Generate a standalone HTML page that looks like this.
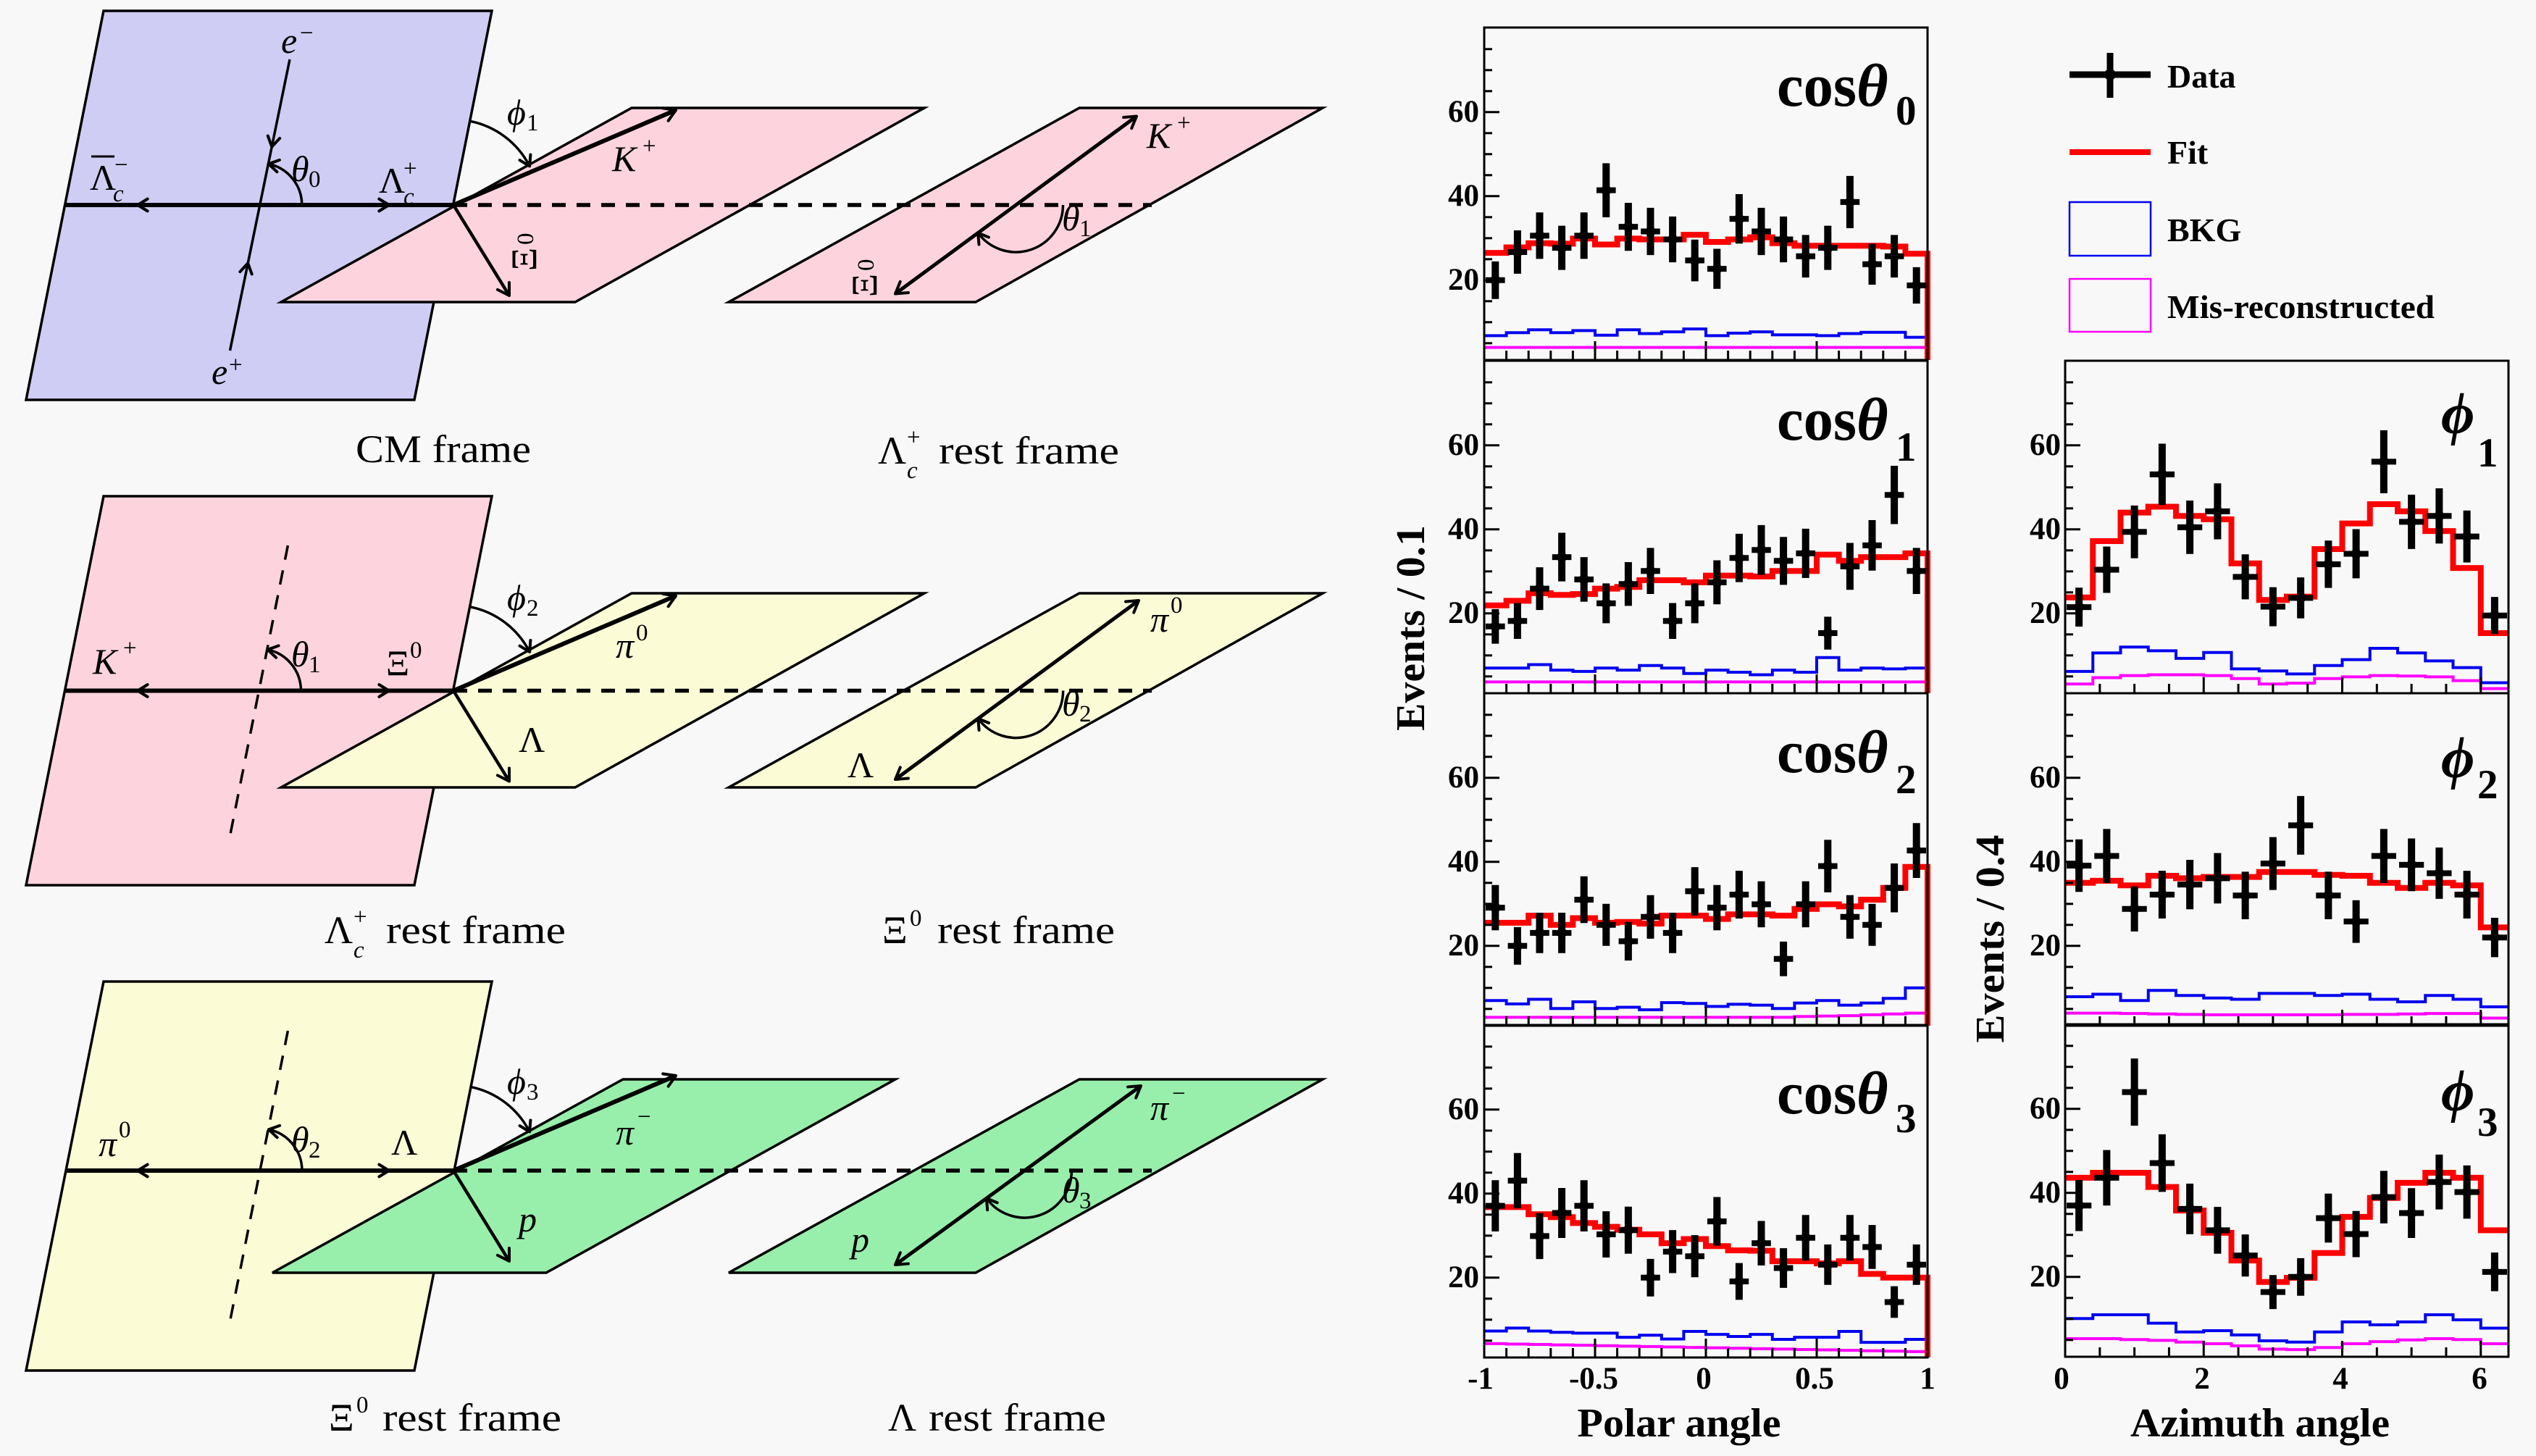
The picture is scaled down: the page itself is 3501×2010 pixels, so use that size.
<!DOCTYPE html>
<html><head><meta charset="utf-8">
<style>
html,body{margin:0;padding:0;background:#f8f8f8;}
svg{display:block;}
text{font-family:"Liberation Serif","DejaVu Serif",serif;fill:#000;}
.bd{font-weight:bold;}
.it{font-style:italic;}
.m{font-size:50px;}
.s{font-size:33px;}
.cap{font-size:54px;}
.tk{font-size:43px;font-weight:bold;}
.lg{font-size:46px;font-weight:bold;}
</style></head><body>
<svg id="s" xmlns="http://www.w3.org/2000/svg" width="3501" height="2010" viewBox="0 0 3501 2010">
<rect width="3501" height="2010" fill="#f8f8f8"/>
<g id="diag"></g>
<g id="plots"></g>

<!-- Row 1 labels -->
<text class="m it" x="388" y="73">e</text><text class="s" x="414" y="56">−</text>
<text class="m it" x="292" y="530">e</text><text class="s" x="316" y="514">+</text>
<text class="m" x="124" y="262">Λ</text><line x1="126" y1="216" x2="158" y2="216" stroke="#000" stroke-width="3"/><text class="s it" x="156" y="278">c</text><text class="s" x="158" y="238">−</text>
<text class="m" x="523" y="266">Λ</text><text class="s" x="557" y="243">+</text><text class="s it" x="557" y="282">c</text>
<text class="m it" x="402" y="250">θ</text><text class="s" x="426" y="258">0</text>
<text class="m it" x="700" y="172">ϕ</text><text class="s" x="727" y="180">1</text>
<text class="m it" x="845" y="236">K</text><text class="s" x="887" y="212">+</text>
<g transform="translate(740,374) rotate(-90)"><text class="m" x="0" y="0">Ξ</text><text class="s" x="36" y="-4">0</text></g>
<g transform="translate(1210,410) rotate(-90)"><text class="m" x="0" y="0">Ξ</text><text class="s" x="36" y="-4">0</text></g>
<text class="m it" x="1583" y="204">K</text><text class="s" x="1625" y="180">+</text>
<text class="m it" x="1466" y="318">θ</text><text class="s" x="1490" y="326">1</text>
<text class="cap" x="491" y="638" textLength="242" lengthAdjust="spacingAndGlyphs">CM frame</text>
<text class="cap" x="1212" y="640">Λ</text><text class="s it" x="1252" y="660">c</text><text class="s" x="1252" y="614">+</text>
<text class="cap" x="1296" y="640" textLength="249" lengthAdjust="spacingAndGlyphs">rest frame</text>

<!-- Row 2 labels -->
<text class="m it" x="128" y="930">K</text><text class="s" x="170" y="905">+</text>
<text class="m it" x="402" y="920">θ</text><text class="s" x="426" y="928">1</text>
<text class="m" x="533" y="932">Ξ</text><text class="s" x="566" y="908">0</text>
<text class="m it" x="700" y="842">ϕ</text><text class="s" x="727" y="850">2</text>
<text class="m it" x="850" y="908">π</text><text class="s" x="878" y="884">0</text>
<text class="m" x="716" y="1038">Λ</text>
<text class="m it" x="1588" y="872">π</text><text class="s" x="1616" y="846">0</text>
<text class="m" x="1170" y="1073">Λ</text>
<text class="m it" x="1466" y="988">θ</text><text class="s" x="1490" y="996">2</text>
<text class="cap" x="448" y="1302">Λ</text><text class="s it" x="488" y="1322">c</text><text class="s" x="488" y="1276">+</text>
<text class="cap" x="533" y="1302" textLength="248" lengthAdjust="spacingAndGlyphs">rest frame</text>
<text class="cap" x="1218" y="1302">Ξ</text><text class="s" x="1256" y="1278">0</text>
<text class="cap" x="1294" y="1302" textLength="245" lengthAdjust="spacingAndGlyphs">rest frame</text>

<!-- Row 3 labels -->
<text class="m it" x="136" y="1596">π</text><text class="s" x="164" y="1570">0</text>
<text class="m it" x="402" y="1590">θ</text><text class="s" x="426" y="1598">2</text>
<text class="m" x="540" y="1594">Λ</text>
<text class="m it" x="700" y="1510">ϕ</text><text class="s" x="727" y="1518">3</text>
<text class="m it" x="850" y="1580">π</text><text class="s" x="880" y="1552">−</text>
<text class="m it" x="716" y="1700">p</text>
<text class="m it" x="1588" y="1546">π</text><text class="s" x="1618" y="1520">−</text>
<text class="m it" x="1175" y="1728">p</text>
<text class="m it" x="1466" y="1660">θ</text><text class="s" x="1490" y="1668">3</text>
<text class="cap" x="454" y="1975">Ξ</text><text class="s" x="492" y="1950">0</text>
<text class="cap" x="528" y="1975" textLength="247" lengthAdjust="spacingAndGlyphs">rest frame</text>
<text class="cap" x="1226" y="1975">Λ</text>
<text class="cap" x="1282" y="1975" textLength="245" lengthAdjust="spacingAndGlyphs">rest frame</text>

<!-- Legend -->
<line x1="2857" y1="103" x2="2969" y2="103" stroke="#000" stroke-width="9"/>
<line x1="2913" y1="73" x2="2913" y2="135" stroke="#000" stroke-width="9"/>
<circle cx="2913" cy="103" r="8" fill="#000"/>
<line x1="2857" y1="210" x2="2969" y2="210" stroke="#f00" stroke-width="8"/>
<rect x="2857" y="279" width="112" height="74" fill="none" stroke="#0000f0" stroke-width="2.5"/>
<rect x="2857" y="385" width="112" height="73" fill="none" stroke="#ff00ff" stroke-width="2.5"/>
<text class="lg" x="2992" y="121">Data</text>
<text class="lg" x="2992" y="226">Fit</text>
<text class="lg" x="2992" y="333">BKG</text>
<text class="lg" x="2992" y="439" textLength="369" lengthAdjust="spacingAndGlyphs">Mis-reconstructed</text>

<!-- Panel labels left -->
<text class="bd" font-size="84" x="2453" y="146" textLength="110" lengthAdjust="spacingAndGlyphs">cos</text><text class="bd it" font-size="84" x="2563" y="146">θ</text><text class="bd" font-size="57" x="2617" y="172">0</text>
<text class="bd" font-size="84" x="2453" y="607" textLength="110" lengthAdjust="spacingAndGlyphs">cos</text><text class="bd it" font-size="84" x="2563" y="607">θ</text><text class="bd" font-size="57" x="2617" y="636">1</text>
<text class="bd" font-size="84" x="2453" y="1066" textLength="110" lengthAdjust="spacingAndGlyphs">cos</text><text class="bd it" font-size="84" x="2563" y="1066">θ</text><text class="bd" font-size="57" x="2617" y="1095">2</text>
<text class="bd" font-size="84" x="2453" y="1537" textLength="110" lengthAdjust="spacingAndGlyphs">cos</text><text class="bd it" font-size="84" x="2563" y="1537">θ</text><text class="bd" font-size="57" x="2617" y="1563">3</text>
<!-- Panel labels right -->
<text class="bd it" font-size="80" x="3370" y="598">ϕ</text><text class="bd" font-size="57" x="3420" y="644">1</text>
<text class="bd it" font-size="80" x="3370" y="1073">ϕ</text><text class="bd" font-size="57" x="3420" y="1102">2</text>
<text class="bd it" font-size="80" x="3370" y="1533">ϕ</text><text class="bd" font-size="57" x="3420" y="1568">3</text>

<!-- Y tick labels -->
<g text-anchor="end">
<text class="tk" x="2042" y="400">20</text><text class="tk" x="2042" y="284">40</text><text class="tk" x="2042" y="168">60</text>
<text class="tk" x="2042" y="860">20</text><text class="tk" x="2042" y="744">40</text><text class="tk" x="2042" y="628">60</text>
<text class="tk" x="2042" y="1319">20</text><text class="tk" x="2042" y="1203">40</text><text class="tk" x="2042" y="1087">60</text>
<text class="tk" x="2042" y="1777">20</text><text class="tk" x="2042" y="1661">40</text><text class="tk" x="2042" y="1545">60</text>
<text class="tk" x="2845" y="860">20</text><text class="tk" x="2845" y="744">40</text><text class="tk" x="2845" y="628">60</text>
<text class="tk" x="2845" y="1319">20</text><text class="tk" x="2845" y="1203">40</text><text class="tk" x="2845" y="1087">60</text>
<text class="tk" x="2845" y="1776">20</text><text class="tk" x="2845" y="1660">40</text><text class="tk" x="2845" y="1544">60</text>
</g>
<!-- X tick labels -->
<g text-anchor="middle">
<text class="tk" x="2044" y="1917">-1</text><text class="tk" x="2200" y="1917">-0.5</text><text class="tk" x="2352" y="1917">0</text><text class="tk" x="2505" y="1917">0.5</text><text class="tk" x="2661" y="1917">1</text>
<text class="tk" x="2846" y="1917">0</text><text class="tk" x="3040" y="1917">2</text><text class="tk" x="3231" y="1917">4</text><text class="tk" x="3423" y="1917">6</text>
<text class="bd" font-size="56" x="2318" y="1983" textLength="281" lengthAdjust="spacingAndGlyphs">Polar angle</text>
<text class="bd" font-size="56" x="3120" y="1983" textLength="358" lengthAdjust="spacingAndGlyphs">Azimuth angle</text>
<text class="bd" font-size="56" transform="translate(1966,867) rotate(-90)" x="0" y="0" textLength="284" lengthAdjust="spacingAndGlyphs">Events / 0.1</text>
<text class="bd" font-size="56" transform="translate(2766,1296) rotate(-90)" x="0" y="0" textLength="287" lengthAdjust="spacingAndGlyphs">Events / 0.4</text>
</g>
</svg>
<script>
const NS="http://www.w3.org/2000/svg";
function el(p,t,a){const e=document.createElementNS(NS,t);for(const k in a)e.setAttribute(k,a[k]);p.appendChild(e);return e;}
const D=document.getElementById('diag'),P=document.getElementById('plots');
const R=Math.PI/180;
function poly(pts,fill){el(D,'polygon',{points:pts.map(p=>p.join(',')).join(' '),fill:fill,stroke:'#000','stroke-width':3.5});}
function ln(x1,y1,x2,y2,w,dash){const a={x1:x1,y1:y1,x2:x2,y2:y2,stroke:'#000','stroke-width':w};if(dash)a['stroke-dasharray']=dash;el(D,'line',a);}
function head(x,y,ang,s){s=s||18;const a1=ang+Math.PI-0.55,a2=ang+Math.PI+0.55;
 el(D,'polyline',{points:(x+s*Math.cos(a1))+','+(y+s*Math.sin(a1))+' '+x+','+y+' '+(x+s*Math.cos(a2))+','+(y+s*Math.sin(a2)),fill:'none',stroke:'#000','stroke-width':4,'stroke-linecap':'round','stroke-linejoin':'round'});}
function arrow(x1,y1,x2,y2,w,both){ln(x1,y1,x2,y2,w);const a=Math.atan2(y2-y1,x2-x1);head(x2,y2,a);if(both)head(x1,y1,a+Math.PI);}
function arc(cx,cy,r,a0,a1,w){const p0=[cx+r*Math.cos(a0*R),cy+r*Math.sin(a0*R)],p1=[cx+r*Math.cos(a1*R),cy+r*Math.sin(a1*R)];
 const sw=a1>a0?1:0,lg=Math.abs(a1-a0)>180?1:0;
 el(D,'path',{d:'M'+p0[0]+','+p0[1]+' A'+r+','+r+' 0 '+lg+' '+sw+' '+p1[0]+','+p1[1],fill:'none',stroke:'#000','stroke-width':w||3.5});
 const t=a1*R;head(p1[0],p1[1],sw?t+Math.PI/2:t-Math.PI/2,16);}
function row(o){
 const dy=o.dy,ly=o.ly;
 poly([[143,15+dy],[679,15+dy],[572,552+dy],[36,552+dy]],o.big);
 poly(o.A,o.small);poly(o.B,o.small);
 ln(91,ly,626,ly,6);head(190,ly,Math.PI,16);head(537,ly,0,16);
 ln(626,ly,1590,ly,5.5,'19 15');
 const v=o.v;
 if(o.e){ln(v[0],v[1],v[2],v[3],3.5);const a=Math.atan2(v[3]-v[1],v[2]-v[0]);
  head(v[0]+(v[2]-v[0])*0.3,v[1]+(v[3]-v[1])*0.3,a,16);head(v[0]+(v[2]-v[0])*0.7,v[1]+(v[3]-v[1])*0.7,a+Math.PI,16);}
 else ln(v[0],v[1],v[2],v[3],3.5,'20 15');
 const tt=(ly-v[1])/(v[3]-v[1]);const vx=v[0]+(v[2]-v[0])*tt;
 arc(vx,ly,58,0,-78,3.5);
 arc(626,ly,118,-79,-27,3.5);
 arrow(626,ly,933,ly-131,6);
 arrow(626,ly,703,ly+125,4.5);
 const b=o.bl;arrow(b[0],b[1],b[2],b[3],5,true);
 const t2=(ly-b[1])/(b[3]-b[1]);const bx=b[0]+(b[2]-b[0])*t2;
 const ang=Math.atan2(b[1]-ly,b[0]-bx)/R;
 arc(bx,ly,65,0,ang,3.5);
}
const BLUE='#d0cdf4',PINK='#fdd4de',YEL='#fbfbd6',GRN='#98efab';
row({dy:0,ly:283,big:BLUE,small:PINK,A:[[872,149],[1276,149],[794,417],[388,417]],B:[[1490,149],[1826,149],[1347,417],[1006,417]],v:[400,82,317.5,484],e:true,bl:[1236,405.5,1569,160.5]});
row({dy:670,ly:953.5,big:PINK,small:YEL,A:[[872,819],[1276,819],[794,1087],[388,1087]],B:[[1490,819],[1826,819],[1347,1087],[1006,1087]],v:[397.4,753,317.5,1154],e:false,bl:[1236,1076,1572,829]});
row({dy:1340,ly:1616,big:YEL,small:GRN,A:[[860,1490],[1236,1490],[754,1757],[376,1757]],B:[[1490,1490],[1826,1490],[1347,1757],[1006,1757]],v:[397.4,1423,317.5,1824],e:false,bl:[1236,1746,1575,1499]});

function panel(x0,x1,B,nb,d,f,bk,mi,left){
 const W=x1-x0,bw=W/nb,top=B-459,Y=v=>B-(v-1)*5.8;
 function hist(vals,c,w,drop){let s='M'+x0+','+Y(vals[0]);for(let i=0;i<nb;i++){s+=' L'+(x0+i*bw)+','+Y(vals[i])+' L'+(x0+(i+1)*bw)+','+Y(vals[i]);}if(drop)s+=' L'+x1+','+B;el(P,'path',{d:s,fill:'none',stroke:c,'stroke-width':w});}
 hist(mi,'#ff00ff',4);hist(bk,'#0000f0',4);hist(f,'#ff0000',8,left);
 for(let i=0;i<nb;i++){const v=d[i],cx=x0+(i+0.5)*bw,cy=Y(v),e=Math.sqrt(v);
  el(P,'line',{x1:cx,y1:Y(v+e),x2:cx,y2:Y(v-e),stroke:'#000','stroke-width':10});
  el(P,'line',{x1:x0+i*bw+2,y1:cy,x2:x0+(i+1)*bw-2,y2:cy,stroke:'#000','stroke-width':8});
  el(P,'circle',{cx:cx,cy:cy,r:7,fill:'#000'});}
 el(P,'rect',{x:x0,y:top,width:W,height:459,fill:'none',stroke:'#000','stroke-width':3});
 for(let v=5;v<80;v+=5){const y=Y(v);el(P,'line',{x1:x0,y1:y,x2:x0+(v%20?11:21),y2:y,stroke:'#000','stroke-width':3});}
 if(left){for(let k=1;k<20;k++){const x=x0+k*W/20;el(P,'line',{x1:x,y1:B,x2:x,y2:B-(k%5?13:26),stroke:'#000','stroke-width':3});}}
 else{for(let k=1;k<=12;k++){const x=x0+k*0.5*W/6.4;el(P,'line',{x1:x,y1:B,x2:x,y2:B-(k%4?13:22),stroke:'#000','stroke-width':3});}}
}
const c20=v=>Array(20).fill(v);
panel(2049,2661,497,20,
 [20,26.7,30.6,27.7,30.6,41.4,32.7,31.6,29.7,24.7,22.7,34.6,31.6,29.7,25.7,27.7,38.6,23.8,25.7,18.75],
 [26.5,27.8,28.8,28.7,29.9,28.5,29.9,29.7,29.7,30.8,29.1,29.7,30.2,28.8,28.2,28.2,28.2,28.2,28,26.3],
 [6.8,7.5,8.2,7.5,8,6.9,8.2,7.3,7.7,8.4,6.8,7.4,7.7,7,7,6.8,7.3,7.6,7.6,6.4],
 c20(4),true);
panel(2049,2661,957,20,
 [16.9,18.2,25.9,33.4,28.1,22.4,27.0,30.1,18.2,22.4,27.4,33.2,35.1,32.5,34.3,15.3,31.2,36.2,48.2,30.1],
 [21.9,23,24.8,24.4,24.6,25.9,26.3,27.9,27.9,27.4,29,29,28.8,30.1,30.1,34,32.5,33.4,33.4,34.3],
 [7,7,7.8,6.5,6.2,7,6.5,7.6,7,5.7,6.5,6,5.4,6.5,6,9.5,6.5,7,6.8,7],
 c20(3.7),true);
panel(2049,2661,1416,20,
 [29.1,20,23.1,23.1,31,25,21.1,26.9,23.1,33,29.1,32.2,29.9,16.9,29.9,39,26.9,25,33.8,42.7],
 [25.5,25.5,27.2,25,26.6,25.5,25.7,25.3,27.2,27.2,26.4,27.5,27.5,27.2,28.8,29.9,29.4,31,33.8,38.8],
 [7,6.2,7.3,5.1,6.7,5.1,5.4,4.8,6.5,6.3,5.6,6.1,5.9,5.1,6.4,7,5.9,6.4,7.5,10],
 [3,3,3,3,3,3,3,3,3,3,3,3,3,3,3.2,3.3,3.4,3.6,3.8,4],true);
panel(2049,2661,1874,20,
 [37.1,43.1,29.9,35.4,37.1,30.3,31.3,20,26.2,25.1,33.4,19.1,28.2,22.3,29.5,23.1,29.5,27.3,14.2,23.1],
 [36.8,36.8,35.1,34.4,33,32.1,31.4,30.3,28.2,29.2,27.5,26.5,26.4,23.9,23.9,23.4,23.9,20.9,20,20],
 [7.3,8,7.3,7,6.8,6.8,5.8,6.3,5.4,7.2,6.5,6,6.5,5.3,5.8,5.8,7.2,4.6,4.6,5.3],
 [4.3,4.2,4.1,4,3.9,3.8,3.7,3.6,3.5,3.4,3.3,3.2,3.1,3,2.9,2.8,2.7,2.6,2.5,2.4],true);
panel(2851,3463,957,16,
 [21.5,30.4,39.4,53.1,40.5,44.3,28.7,21.6,23.7,31.7,34.2,56.1,41.8,43.2,38.3,19.5],
 [23.8,37.2,44,45.4,43.2,42.4,31.9,23.2,24,35.3,41.4,46,44.3,39.6,30.8,15.3],
 [6.2,10.6,12,11.1,9.3,10.7,6.8,6.3,5.6,7.6,9,11.7,10.6,8.7,7.1,3.5],
 [3.2,4.7,5.2,5.4,5.4,5.2,4.5,3.2,3.4,4.5,4.9,5.2,5.1,4.9,4,2.1],false);
panel(2851,3463,1416,16,
 [39.1,41.4,28.8,32.2,34.6,36.1,32,39.6,48.7,32,25.8,41.4,39.3,37.3,32.2,22],
 [35,35.5,34.4,36.7,36.1,36.4,36.4,37.6,37.6,36.9,36.7,35,33.8,35,34.4,24.4],
 [7.9,8.5,7,9.4,8.2,7.6,7.3,8.7,8.7,8.2,8.5,7.3,6.7,8.2,7.3,5.5],
 [4,4,3.9,3.8,3.7,3.6,3.6,3.6,3.6,3.6,3.7,3.7,3.8,3.9,3.9,2.8],false);
panel(2851,3463,1873,16,
 [37,43.6,64,47.1,36.2,31.1,25.1,16.4,20,34,30.2,39,35.2,42.6,40.2,21.2],
 [43.6,44.8,44.8,41.4,35.8,30.5,23.9,18.8,19.8,25.7,34.3,38.8,42.4,44.8,43.6,31.1],
 [10.1,11,11,9,6.9,7.2,6.2,4.8,4.5,6.9,9.3,8.6,9.3,11,9.8,7.8],
 [5.3,5.3,5.1,4.9,4.5,4.1,3.6,2.8,2.7,3.2,4.1,4.6,5,5.3,5.1,4.1],false);
</script>
</body></html>
